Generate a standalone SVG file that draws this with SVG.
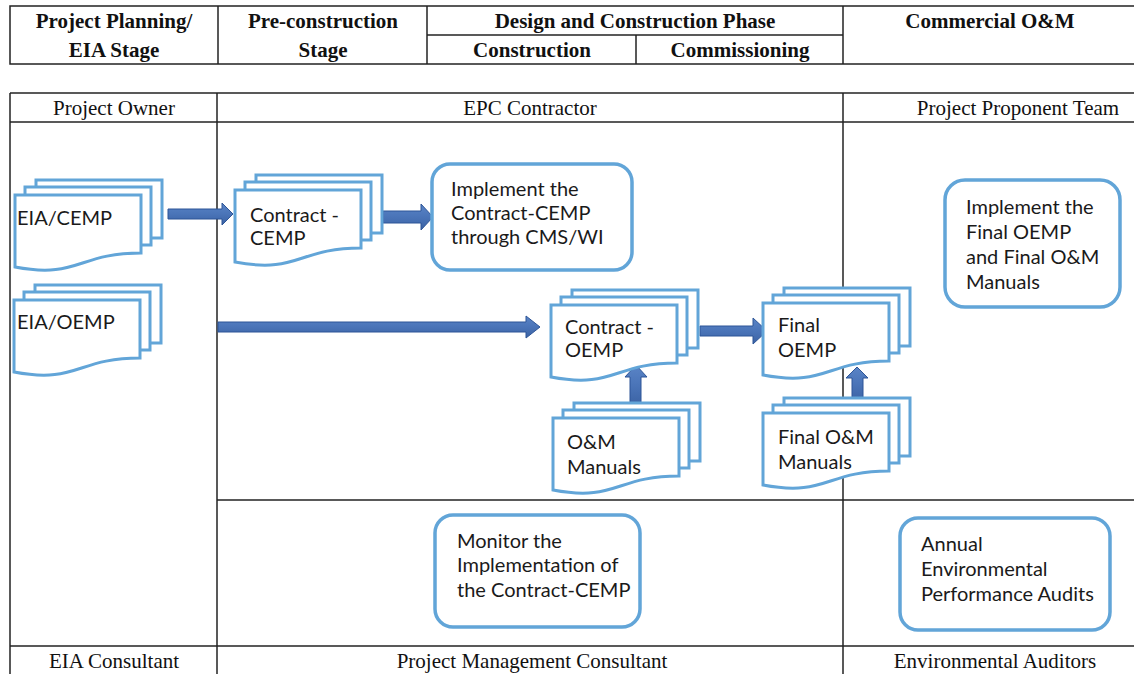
<svg xmlns="http://www.w3.org/2000/svg" xmlns:xlink="http://www.w3.org/1999/xlink" width="1134" height="674" viewBox="0 0 1134 674">
<style>
.grid{stroke:#222;stroke-width:1.5;fill:none}
.hd{font-family:"Liberation Serif",serif;font-weight:bold;font-size:21px;fill:#111;text-anchor:middle}
.lb{font-family:"Liberation Serif",serif;font-size:21px;fill:#111;text-anchor:middle}
.nt{font-family:Lato,"Liberation Sans",sans-serif;font-size:20px;fill:#1a1a1a}
.page{fill:#fff;stroke:#62a5d8;stroke-width:3}
.box{fill:#fff;stroke:#62a5d8;stroke-width:3.5}
.arr{fill:url(#ag);stroke:#2d5597;stroke-width:1}
</style>
<defs>
<linearGradient id="ag" x1="0" y1="0" x2="0" y2="1">
<stop offset="0" stop-color="#5a84c6"/><stop offset="0.5" stop-color="#4a74b8"/><stop offset="1" stop-color="#3b62a3"/>
</linearGradient>
<g id="mdoc">
<rect class="page" x="21" y="-15" width="126" height="58"/>
<rect class="page" x="10" y="-8" width="126" height="58"/>
<path class="page" d="M0,0 H126 V58 C63,58 63,84 0,72 Z"/>
</g>
</defs>
<rect width="1134" height="674" fill="#fff"/>

<g id="phase-table">
<rect class="grid" x="10" y="6" width="1130" height="58"/>
<line class="grid" x1="218" y1="6" x2="218" y2="64"/>
<line class="grid" x1="427" y1="6" x2="427" y2="64"/>
<line class="grid" x1="843" y1="6" x2="843" y2="64"/>
<line class="grid" x1="427" y1="35" x2="843" y2="35"/>
<line class="grid" x1="636" y1="35" x2="636" y2="64"/>
<text class="hd" x="114" y="28">Project Planning/</text>
<text class="hd" x="114" y="57">EIA Stage</text>
<text class="hd" x="323" y="28">Pre-construction</text>
<text class="hd" x="323" y="57">Stage</text>
<text class="hd" x="635" y="28">Design and Construction Phase</text>
<text class="hd" x="532" y="57">Construction</text>
<text class="hd" x="740" y="57">Commissioning</text>
<text class="hd" x="990" y="28">Commercial O&amp;M</text>
</g>

<g id="swimlanes">
<line class="grid" x1="10" y1="93" x2="1134" y2="93"/>
<line class="grid" x1="10" y1="122" x2="1134" y2="122"/>
<line class="grid" x1="217" y1="500" x2="1134" y2="500"/>
<line class="grid" x1="10" y1="646" x2="1134" y2="646"/>
<line class="grid" x1="10" y1="93" x2="10" y2="674"/>
<line class="grid" x1="217" y1="93" x2="217" y2="674"/>
<line class="grid" x1="843" y1="93" x2="843" y2="674"/>
<text class="lb" x="114" y="115">Project Owner</text>
<text class="lb" x="530" y="115">EPC Contractor</text>
<text class="lb" x="1018" y="115">Project Proponent Team</text>
<text class="lb" x="114" y="668">EIA Consultant</text>
<text class="lb" x="532" y="668">Project Management Consultant</text>
<text class="lb" x="995" y="668">Environmental Auditors</text>
</g>

<g id="connectors">
<path class="arr" d="M168,209 H222 V203 L233,214 L222,225 V219 H168 Z"/>
<path class="arr" d="M383,211 H421 V204 L433,217 L421,230 V223 H383 Z"/>
<path class="arr" d="M218,322 H526 V316 L540,327 L526,338 V332 H218 Z"/>
<path class="arr" d="M700,326 H753 V318 L767,331 L753,344 V336 H700 Z"/>
<path class="arr" d="M630,406 V377 H625 L636,365 L647,377 H641 V406 Z"/>
<path class="arr" d="M852,402 V378 H846 L857,367 L868,378 H863 V402 Z"/>
</g>

<g id="eia-cemp">
<use xlink:href="#mdoc" href="#mdoc" x="15" y="195"/>
<text class="nt" x="17" y="225">EIA/CEMP</text>
</g>
<g id="eia-oemp">
<use xlink:href="#mdoc" href="#mdoc" x="14" y="300"/>
<text class="nt" x="17" y="329">EIA/OEMP</text>
</g>
<g id="contract-cemp">
<use xlink:href="#mdoc" href="#mdoc" x="235" y="190"/>
<text class="nt" x="250" y="222">Contract -</text>
<text class="nt" x="250" y="245">CEMP</text>
</g>
<g id="implement-cemp">
<rect class="box" x="432" y="164" width="200" height="106" rx="18"/>
<text class="nt" x="451" y="196">Implement the</text>
<text class="nt" x="451" y="220">Contract-CEMP</text>
<text class="nt" x="451" y="244">through CMS/WI</text>
</g>
<g id="contract-oemp">
<use xlink:href="#mdoc" href="#mdoc" x="551" y="305"/>
<text class="nt" x="565" y="334">Contract -</text>
<text class="nt" x="565" y="357">OEMP</text>
</g>
<g id="final-oemp">
<use xlink:href="#mdoc" href="#mdoc" x="763" y="303"/>
<text class="nt" x="778" y="332">Final</text>
<text class="nt" x="778" y="357">OEMP</text>
</g>
<g id="om-manuals">
<use xlink:href="#mdoc" href="#mdoc" x="553" y="418"/>
<text class="nt" x="567" y="449">O&amp;M</text>
<text class="nt" x="567" y="474">Manuals</text>
</g>
<g id="final-om-manuals">
<use xlink:href="#mdoc" href="#mdoc" x="763" y="413"/>
<text class="nt" x="778" y="444">Final O&amp;M</text>
<text class="nt" x="778" y="469">Manuals</text>
</g>
<g id="implement-final">
<rect class="box" x="945" y="180" width="175" height="127" rx="20"/>
<text class="nt" x="966" y="214">Implement the</text>
<text class="nt" x="966" y="239">Final OEMP</text>
<text class="nt" x="966" y="264">and Final O&amp;M</text>
<text class="nt" x="966" y="289">Manuals</text>
</g>
<g id="monitor">
<rect class="box" x="435" y="515" width="205" height="112" rx="18"/>
<text class="nt" x="457" y="548">Monitor the</text>
<text class="nt" x="457" y="572">Implementation of</text>
<text class="nt" x="457" y="597">the Contract-CEMP</text>
</g>
<g id="audits">
<rect class="box" x="900" y="518" width="210" height="112" rx="18"/>
<text class="nt" x="921" y="551">Annual</text>
<text class="nt" x="921" y="576">Environmental</text>
<text class="nt" x="921" y="601">Performance Audits</text>
</g>
</svg>
